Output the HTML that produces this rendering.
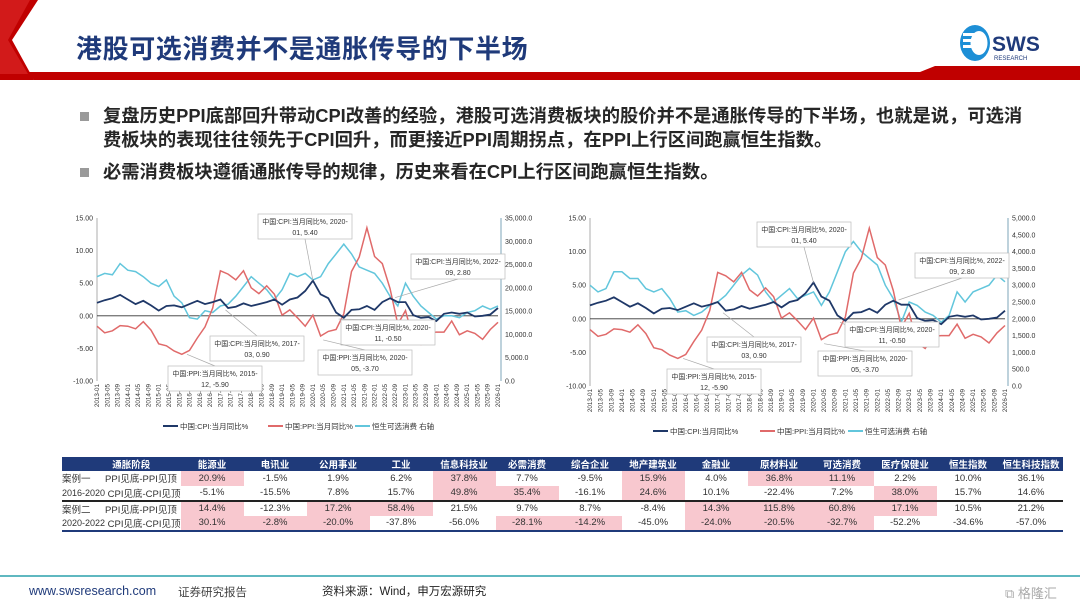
<!DOCTYPE html>
<html><head><meta charset="utf-8">
<style>
*{margin:0;padding:0;box-sizing:border-box}
body{width:1080px;height:608px;position:relative;background:#fff;overflow:hidden;font-family:"Liberation Sans","Noto Sans CJK SC",sans-serif}
.abs{position:absolute}
.title{left:76px;top:29px;font-size:26px;font-weight:bold;color:#1f3a7a;letter-spacing:0.6px}
.bl{left:80px;width:9px;height:9px;background:#9a9a9a}
.bt{left:103px;font-size:18.3px;font-weight:bold;color:#262626;line-height:24px;width:935px;white-space:nowrap}
table{position:absolute;left:62px;top:457px;border-collapse:collapse;font-size:9.5px;color:#333}
td,th{height:14.6px;text-align:center;padding:0;white-space:nowrap}
th{background:#1f3a7a;color:#fff;font-weight:bold;height:13px}
td.p{background:#f8c8cf}
.c1{width:33px;text-align:left}
.c2{width:65px;text-align:left}
.cv{width:63px}
tr.sep td{border-bottom:2px solid #222}
tr.last td{border-bottom:2px solid #1f3a7a}
</style></head><body>
<svg class="abs" style="left:0;top:0" width="1080" height="90">
<polygon points="0,0 38,0 12,40 34,80 0,80" fill="#c00000"/>
<polygon points="0,0 30,0 8,40 28,74 0,74" fill="#d21a1a"/>
<polygon points="28,72 920,72 935,66 1080,66 1080,80 34,80" fill="#c00000"/>
<g>
<ellipse cx="975" cy="43" rx="15" ry="18" fill="#1d8fd6"/>
<ellipse cx="979" cy="43" rx="8.5" ry="12" fill="#fff"/>
<rect x="963" y="33" width="12" height="3" fill="#fff"/><rect x="963" y="39" width="12" height="3" fill="#fff"/><rect x="963" y="45" width="12" height="3" fill="#fff"/>
<text x="992" y="51" font-size="21" font-weight="bold" fill="#1f3a7a" font-family="Liberation Sans">SWS</text>
<text x="994" y="60" font-size="6" fill="#1f3a7a" font-family="Liberation Sans">RESEARCH</text>
</g>
</svg>
<div class="abs title">港股可选消费并不是通胀传导的下半场</div>
<div class="abs bl" style="top:112px"></div>
<div class="abs bt" style="top:104px">复盘历史PPI底部回升带动CPI改善的经验，港股可选消费板块的股价并不是通胀传导的下半场，也就是说，可选消<br>费板块的表现往往领先于CPI回升，而更接近PPI周期拐点，在PPI上行区间跑赢恒生指数。</div>
<div class="abs bl" style="top:168px"></div>
<div class="abs bt" style="top:160px">必需消费板块遵循通胀传导的规律，历史来看在CPI上行区间跑赢恒生指数。</div>

<svg id="charts" class="abs" style="left:0;top:0" width="1080" height="450"></svg>

<table>
<tr><th colspan="2" style="text-align:center;padding-left:20px">通胀阶段</th><th class="cv">能源业</th><th class="cv">电讯业</th><th class="cv">公用事业</th><th class="cv">工业</th><th class="cv">信息科技业</th><th class="cv">必需消费</th><th class="cv">综合企业</th><th class="cv">地产建筑业</th><th class="cv">金融业</th><th class="cv">原材料业</th><th class="cv">可选消费</th><th class="cv">医疗保健业</th><th class="cv">恒生指数</th><th class="cv">恒生科技指数</th></tr>
<tr><td class="c1">案例一</td><td class="c2">PPI见底-PPI见顶</td><td class="p">20.9%</td><td>-1.5%</td><td>1.9%</td><td>6.2%</td><td class="p">37.8%</td><td>7.7%</td><td>-9.5%</td><td class="p">15.9%</td><td>4.0%</td><td class="p">36.8%</td><td class="p">11.1%</td><td>2.2%</td><td>10.0%</td><td>36.1%</td></tr>
<tr class="sep"><td class="c1" style="font-size:9px">2016-2020</td><td class="c2">&nbsp;CPI见底-CPI见顶</td><td>-5.1%</td><td>-15.5%</td><td>7.8%</td><td>15.7%</td><td class="p">49.8%</td><td class="p">35.4%</td><td>-16.1%</td><td class="p">24.6%</td><td>10.1%</td><td>-22.4%</td><td>7.2%</td><td class="p">38.0%</td><td>15.7%</td><td>14.6%</td></tr>
<tr><td class="c1">案例二</td><td class="c2">PPI见底-PPI见顶</td><td class="p">14.4%</td><td>-12.3%</td><td class="p">17.2%</td><td class="p">58.4%</td><td>21.5%</td><td>9.7%</td><td>8.7%</td><td>-8.4%</td><td class="p">14.3%</td><td class="p">115.8%</td><td class="p">60.8%</td><td class="p">17.1%</td><td>10.5%</td><td>21.2%</td></tr>
<tr class="last"><td class="c1" style="font-size:9px">2020-2022</td><td class="c2">&nbsp;CPI见底-CPI见顶</td><td class="p">30.1%</td><td class="p">-2.8%</td><td class="p">-20.0%</td><td>-37.8%</td><td>-56.0%</td><td class="p">-28.1%</td><td class="p">-14.2%</td><td>-45.0%</td><td class="p">-24.0%</td><td class="p">-20.5%</td><td class="p">-32.7%</td><td>-52.2%</td><td>-34.6%</td><td>-57.0%</td></tr>
</table>

<div class="abs" style="left:0;top:575px;width:1080px;height:2px;background:#5fb8c0"></div>
<div class="abs" style="left:29px;top:584px;font-size:12.5px;color:#1f3a7a">www.swsresearch.com</div>
<div class="abs" style="left:178px;top:584px;font-size:11.5px;color:#444">证券研究报告</div>
<div class="abs" style="left:322px;top:583px;font-size:11.5px;color:#222">资料来源：Wind，申万宏源研究</div>
<div class="abs" style="left:1005px;top:583px;font-size:13px;color:#aaa">⧉ 格隆汇</div>

<script>
const cpi=[2.0,2.4,2.7,3.2,2.5,1.8,2.3,1.6,0.8,1.5,1.6,1.3,1.8,2.3,1.8,2.1,2.5,1.2,1.4,1.9,1.5,1.8,2.1,2.5,1.7,2.5,2.8,3.8,5.4,3.3,2.7,0.5,-0.3,0.9,1.0,1.5,0.9,2.1,2.7,2.1,2.1,0.1,-0.3,-0.2,-0.8,0.3,0.5,0.3,0.5,-0.1,0.0,0.2,1.2];
const ppi=[-1.6,-2.6,-2.3,-1.5,-1.6,-2.0,-0.9,-2.2,-4.3,-4.6,-5.4,-5.9,-5.3,-3.4,-1.7,1.2,6.9,6.4,5.5,6.9,4.3,3.4,4.6,3.3,0.1,0.9,-0.3,-1.6,0.1,-3.1,-2.4,-2.1,0.3,6.8,9.0,13.5,9.1,8.0,4.2,-1.3,0.8,-3.6,-4.4,-2.6,-2.5,-2.5,-0.8,-2.9,-2.3,-2.7,-3.6,-2.1,-1.0];
const hsi1=[22400,23100,22800,25200,23800,23500,22400,21000,20300,21700,18200,16800,13600,13300,15100,14700,16100,16500,18200,20300,22400,21000,19600,17500,19600,23100,22400,23100,21700,22400,25200,27300,29400,27300,24500,23800,23100,21000,18200,16100,21000,18200,16100,14700,13300,14000,14000,13600,14700,15100,16100,15400,16100];
const hsi2=[3000,2800,2900,3400,3400,3200,3200,2900,2800,2900,2600,2200,2240,2100,2200,2400,2500,2700,3000,3300,3500,3300,2800,2500,2700,2900,2600,2700,2800,2400,2800,3400,4000,4300,4000,3800,3600,3000,2600,1900,2500,2400,2200,2100,1900,2100,2800,2500,2800,2900,3000,3300,3100];
const leftTicks=["-10.00","-5.00","0.00","5.00","10.00","15.00"];
const leftVals=[-10,-5,0,5,10,15];
const right1Vals=[0,5000,10000,15000,20000,25000,30000,35000];
const right1Labels=["0.0","5,000.0","10,000.0","15,000.0","20,000.0","25,000.0","30,000.0","35,000.0"];
const right2Vals=[0,500,1000,1500,2000,2500,3000,3500,4000,4500,5000];
const right2Labels=["0.0","500.0","1,000.0","1,500.0","2,000.0","2,500.0","3,000.0","3,500.0","4,000.0","4,500.0","5,000.0"];
const annSeries=["cpi","cpi","cpi","cpi","ppi","ppi"];
const annMonths=[84,116,94,50,88,35];
const annValues=[5.4,2.8,-0.5,0.9,-3.7,-5.9];
const annLine1=["中国:CPI:当月同比%, 2020-","中国:CPI:当月同比%, 2022-","中国:CPI:当月同比%, 2020-","中国:CPI:当月同比%, 2017-","中国:PPI:当月同比%, 2020-","中国:PPI:当月同比%, 2015-"];
const annLine2=["01, 5.40","09, 2.80","11, -0.50","03, 0.90","05, -3.70","12, -5.90"];
const NS="http://www.w3.org/2000/svg";
const svg=document.getElementById('charts');
function mk(t,a,p){const e=document.createElementNS(NS,t);for(const k in a)e.setAttribute(k,a[k]);(p||svg).appendChild(e);return e;}
function chart(cfg,idx){
  const g=mk('g',{});
  
  
  const X=m=>cfg.x0+m/156*(cfg.x1-cfg.x0);
  const Y=v=>cfg.yb+(v+10)/25*(cfg.yt-cfg.yb);
  const YR=v=>cfg.yb+v/cfg.rmax*(cfg.yt-cfg.yb);
  mk('line',{x1:cfg.x0,y1:cfg.yt,x2:cfg.x0,y2:cfg.yb,stroke:'#999','stroke-width':0.8},g);
  mk('line',{x1:cfg.x1+3,y1:cfg.yt,x2:cfg.x1+3,y2:cfg.yb,stroke:'#5e8fa8','stroke-width':0.8},g);
  mk('line',{x1:cfg.x0,y1:Y(0),x2:cfg.x1,y2:Y(0),stroke:'#333','stroke-width':0.8},g);
  leftVals.forEach((v,i)=>{const t=mk('text',{x:cfg.x0-4,y:Y(v)+2.5,'font-size':7,'text-anchor':'end',fill:'#333'},g);t.textContent=leftTicks[i];});
  cfg.rv.forEach((v,i)=>{const t=mk('text',{x:cfg.x1+7,y:YR(v)+2.5,'font-size':7,fill:'#333'},g);t.textContent=cfg.rl[i];});
  for(let m=0;m<=156;m+=4){const yr=2013+Math.floor(m/12),mo=m%12+1;
    const t=mk('text',{x:0,y:0,'font-size':6.3,'text-anchor':'end',fill:'#333',transform:`translate(${X(m)+2},${cfg.yb+3}) rotate(-90)`},g);
    t.textContent=yr+'-'+String(mo).padStart(2,'0');}
  function line(arr,yf,col,name,w){const d=arr.map((v,i)=>(i?'L':'M')+X(i*3).toFixed(1)+','+yf(v).toFixed(1)).join('');
    const p=mk('path',{d,fill:'none',stroke:col,'stroke-width':w},g);
    
    }
  line(cfg.h,YR,'#62c6dc','hsi-consumer-line',1.5);
  line(ppi,Y,'#e06a6a','ppi-line',1.5);
  line(cpi,Y,'#1f3868','cpi-line',1.8);
  annMonths.forEach((m,i)=>{const b=cfg.boxes[i];const px=X(m),py=Y(annValues[i]);
    const ag=mk('g',{},g);
    
    
    const bx=b[0]+47,by=(py<b[1])?b[1]:b[1]+25;
    mk('line',{x1:bx,y1:by,x2:px,y2:py,stroke:'#aaa','stroke-width':0.7},ag);
    mk('rect',{x:b[0],y:b[1],width:94,height:25,fill:'#fff',stroke:'#bbb','stroke-width':0.7},ag);
    const t1=mk('text',{x:b[0]+47,y:b[1]+10,'font-size':7,'text-anchor':'middle',fill:'#333'},ag);t1.textContent=annLine1[i];
    const t2=mk('text',{x:b[0]+47,y:b[1]+21,'font-size':7,'text-anchor':'middle',fill:'#333'},ag);t2.textContent=annLine2[i];
  });
  const L=[['#1f3868','中国:CPI:当月同比%'],['#e06a6a','中国:PPI:当月同比%'],['#62c6dc','恒生可选消费  右轴']];
  L.forEach((l,i)=>{const lx=cfg.lx[i];const lg=mk('g',{},g);
    
    
    mk('line',{x1:lx,y1:cfg.ly,x2:lx+15,y2:cfg.ly,stroke:l[0],'stroke-width':2},lg);
    const t=mk('text',{x:lx+17,y:cfg.ly+3,'font-size':7.5,fill:'#333'},lg);t.textContent=l[1];});
}
chart({x0:97,x1:498,yt:218,yb:381,rmax:35000,rv:right1Vals,rl:right1Labels,h:hsi1,
  boxes:[[258,214],[411,254],[341,320],[210,336],[318,350],[168,366]],lx:[163,268,355],ly:426},1);
chart({x0:590,x1:1005,yt:218,yb:386,rmax:5000,rv:right2Vals,rl:right2Labels,h:hsi2,
  boxes:[[757,222],[915,253],[845,322],[707,337],[818,351],[667,369]],lx:[653,760,848],ly:431},2);
</script>
</body></html>
